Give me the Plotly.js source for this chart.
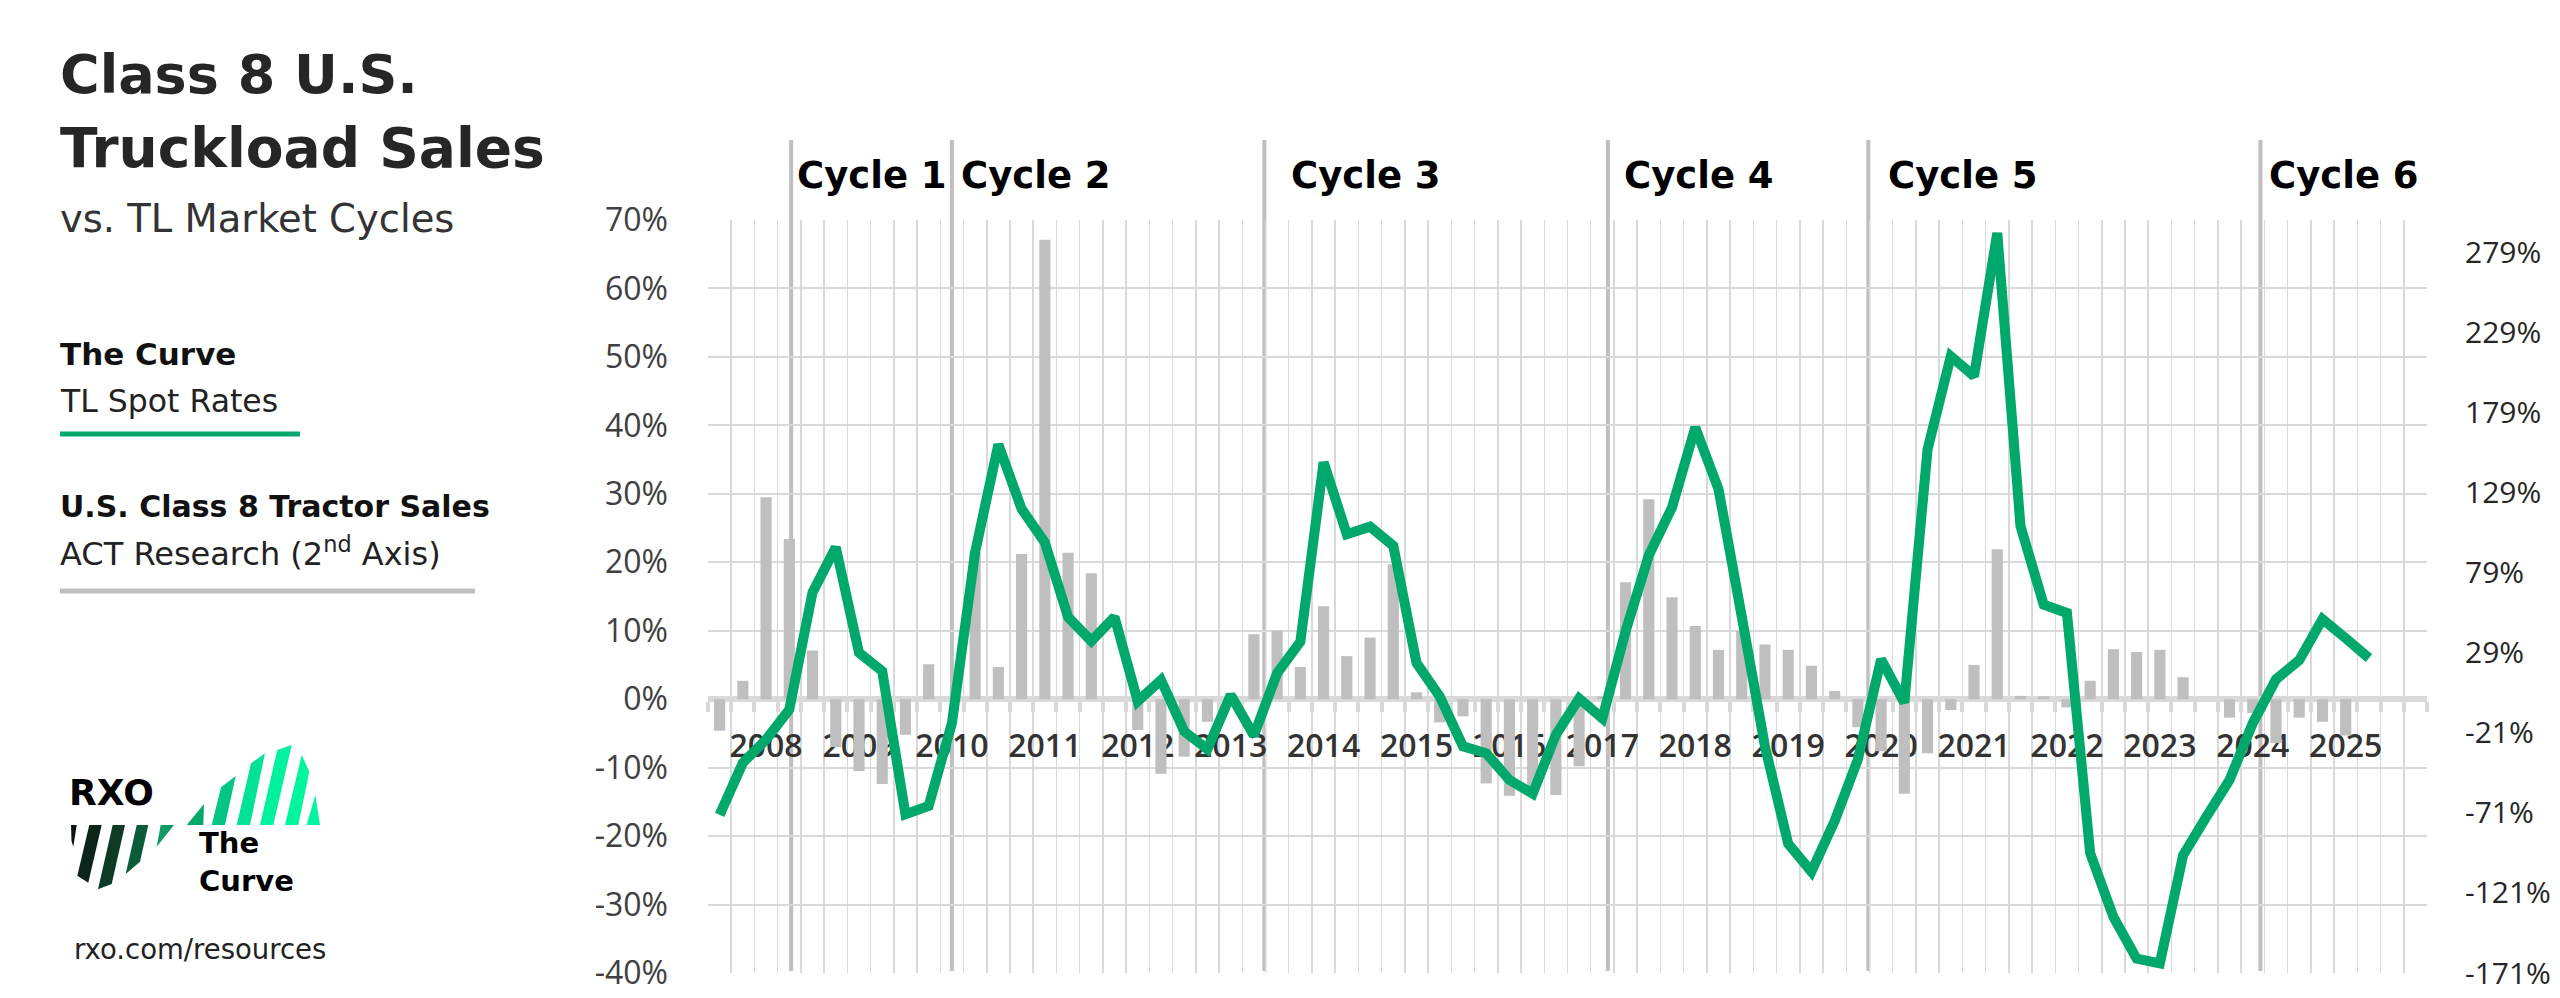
<!DOCTYPE html>
<html>
<head>
<meta charset="utf-8">
<script src="https://cdn.plot.ly/plotly-3.0.1.min.js"></script>
<style>
html,body{margin:0;padding:0;background:#ffffff;}
#chart{width:2560px;height:998px;}
</style>
</head>
<body>
<div id="chart"></div>
<script>
// ---------------- DATA ----------------
const quarters = [
  "2007 Q3","2007 Q4",
  "2008 Q1","2008 Q2","2008 Q3","2008 Q4",
  "2009 Q1","2009 Q2","2009 Q3","2009 Q4",
  "2010 Q1","2010 Q2","2010 Q3","2010 Q4",
  "2011 Q1","2011 Q2","2011 Q3","2011 Q4",
  "2012 Q1","2012 Q2","2012 Q3","2012 Q4",
  "2013 Q1","2013 Q2","2013 Q3","2013 Q4",
  "2014 Q1","2014 Q2","2014 Q3","2014 Q4",
  "2015 Q1","2015 Q2","2015 Q3","2015 Q4",
  "2016 Q1","2016 Q2","2016 Q3","2016 Q4",
  "2017 Q1","2017 Q2","2017 Q3","2017 Q4",
  "2018 Q1","2018 Q2","2018 Q3","2018 Q4",
  "2019 Q1","2019 Q2","2019 Q3","2019 Q4",
  "2020 Q1","2020 Q2","2020 Q3","2020 Q4",
  "2021 Q1","2021 Q2","2021 Q3","2021 Q4",
  "2022 Q1","2022 Q2","2022 Q3","2022 Q4",
  "2023 Q1","2023 Q2","2023 Q3","2023 Q4",
  "2024 Q1","2024 Q2","2024 Q3","2024 Q4",
  "2025 Q1","2025 Q2","2025 Q3","2025 Q4"
];

// The Curve – TL spot rates, YoY % (left axis)
const spotRates = [
  -16.9, -9.3, -5.9, -1.5, 15.6, 22.2, 6.8, 4.1, -16.8, -15.6,
  -3.5, 21.5, 37.2, 27.8, 22.9, 12.0, 8.5, 12.0, -0.3, 2.8,
  -4.7, -7.3, 0.6, -5.3, 3.8, 8.4, 34.6, 24.1, 25.2, 22.4,
  5.3, 0.4, -6.9, -7.9, -11.8, -13.8, -5.2, 0.1, -2.8, 9.9,
  21.0, 28.0, 39.7, 30.7, 12.1, -6.9, -21.1, -25.2, -17.8, -8.8,
  5.8, -0.5, 36.5, 50.1, 47.2, 68.1, 25.3, 13.8, 12.6, -22.5,
  -31.8, -37.9, -38.6, -22.8, -17.2, -11.8, -3.5, 2.9, 5.7, 11.7,
  8.9, 6.0
];

// U.S. Class 8 tractor sales, YoY % (2nd axis)
const tractorSales = [
  -19.7, 11.5, 126.1, 100.0, 30.4, -29.9, -44.9, -53.0, -22.2, 21.8,
  0.0, 91.9, 20.1, 90.6, 286.9, 91.5, 78.7, 0.0, -19.2, -46.6,
  -35.9, -14.1, 0.0, 40.6, 42.8, 20.1, 58.1, 26.9, 38.5, 84.2,
  4.3, -14.5, -10.7, -52.6, -60.3, -57.7, -59.9, -41.9, 1.7, 73.1,
  124.8, 63.7, 45.7, 30.8, 42.8, 34.2, 30.8, 20.9, 5.1, -17.5,
  -32.5, -59.0, -33.8, -6.8, 21.4, 93.6, 2.1, 1.7, -5.1, 11.5,
  31.2, 29.5, 30.8, 13.7, 0.0, -11.5, -8.6, -27.4, -11.5, -14.1,
  -22.7
];

const cycleNames = ["Cycle 1","Cycle 2","Cycle 3","Cycle 4","Cycle 5","Cycle 6"];
// cycle starts, in quarter-index units (0 = 2007 Q3)
const cycleStarts = [3.08, 10.0, 23.45, 38.24, 49.45, 66.33];

const leftTicks  = [-40,-30,-20,-10,0,10,20,30,40,50,60,70];
const rightTicks = [-171,-121,-71,-21,29,79,129,179,229,279];
const yearTickText = quarters.map(q => q.endsWith("Q1") ? q.slice(0,4) : " ");

// ---------------- LAYOUT HELPERS ----------------
const L = 708, R = 2427, T = 220, B = 973;
const W = R - L, H = B - T;
const px = x => (x - L) / W;
const py = y => (B - y) / H;

const HEAD = "DejaVu Sans";
const AX = "Open Sans";

function note(text, x, y, size, color, family, extra) {
  return Object.assign({
    xref: "paper", yref: "paper", x: px(x), y: py(y),
    xanchor: "left", yanchor: "middle", showarrow: false,
    text: text, align: "left",
    font: {family: family || HEAD, size: size, color: color || "#111"}
  }, extra || {});
}

function poly(points, color) {
  const d = points.map((p, i) => (i ? "L" : "M") + px(p[0]).toFixed(5) + "," + py(p[1]).toFixed(5)).join(" ") + " Z";
  return {type: "path", xref: "paper", yref: "paper", path: d,
          fillcolor: color, line: {width: 0}, layer: "above"};
}

const annotations = [
  note("<b>Class 8 U.S.</b>", 58, 75, 54, "#262626"),
  note("<b>Truckload Sales</b>", 58, 148, 55, "#262626"),
  note("vs. TL Market Cycles", 58, 218, 38.5, "#333333"),
  note("<b>The Curve</b>", 58, 354, 31, "#111111"),
  note("TL Spot Rates", 58, 401, 31.5, "#222222"),
  note("<b>U.S. Class 8 Tractor Sales</b>", 58, 506, 30, "#111111"),
  note("ACT Research (2<sup>nd</sup> Axis)", 58, 552, 32, "#222222"),
  note("<b>RXO</b>", 67, 792, 36, "#000000"),
  note("<b>The<br>Curve</b>", 197, 862, 29, "#000000"),
  note("rxo.com/resources", 72, 949, 27.5, "#222222")
];

const cycleLabelLeft = [795, 959, 1289, 1622, 1886, 2267];
cycleNames.forEach((n, i) => {
  annotations.push(note("<b>" + n + "</b>", cycleLabelLeft[i], 175, 37, "#000000"));
});

const shapes = [
  {type: "line", xref: "paper", yref: "paper", x0: px(60), x1: px(300), y0: py(434), y1: py(434),
   line: {color: "#00a86b", width: 5}},
  {type: "line", xref: "paper", yref: "paper", x0: px(60), x1: px(475), y0: py(591), y1: py(591),
   line: {color: "#bfbfbf", width: 5}}
];

cycleStarts.forEach(c => {
  shapes.push({type: "line", xref: "x", yref: "paper", x0: c, x1: c, y0: py(971), y1: py(140),
    line: {color: "#bfbfbf", width: 4}, layer: "below"});
});

// logo stripes (decorative)
const logoDark = [
  [[[71,825],[76.7,825],[73.3,846.7],[71.5,841]], "#08170f"],
  [[[89.3,825],[101.7,825],[88.3,882.7],[77.3,875.7]], "#0b2519"],
  [[[112.7,825],[125,825],[111.7,884],[98,889.3]], "#0c3a25"],
  [[[136.7,825],[148.3,825],[140,861.7],[125.7,874]], "#0b5a38"],
  [[[160.7,825],[174,825],[156.7,846.7]], "#0f9a63"]
];
const logoGreen = [
  [[[186.7,825],[203.3,825],[204,804]], "#07a86c"],
  [[[211.7,825],[225,825],[235.7,776],[221,787.3]], "#03c584"],
  [[[236.7,825],[250,825],[265,753.3],[251,763.3]], "#00e394"],
  [[[260,825],[273.3,825],[291.7,745],[277.3,750]], "#00f39c"],
  [[[285,825],[298.3,825],[309.3,771.7],[301.7,755]], "#00f59d"],
  [[[306.7,825],[320,825],[315.3,795]], "#00f59d"]
];
logoDark.concat(logoGreen).forEach(s => shapes.push(poly(s[0], s[1])));

// ---------------- TRACES ----------------
const bars = {
  type: "bar", name: "U.S. Class 8 Tractor Sales",
  x: quarters.slice(0, tractorSales.length), y: tractorSales,
  yaxis: "y2", marker: {color: "#bfbfbf", line: {width: 0}},
  hoverinfo: "skip"
};
const curve = {
  type: "scatter", mode: "lines", name: "The Curve",
  x: quarters.slice(0, spotRates.length), y: spotRates,
  yaxis: "y", line: {color: "#00a86b", width: 10},
  hoverinfo: "skip"
};

const layout = {
  width: 2560, height: 998,
  margin: {l: L, r: 2560 - R, t: T, b: 998 - B},
  paper_bgcolor: "#ffffff", plot_bgcolor: "rgba(0,0,0,0)",
  showlegend: false,
  bargap: 0.52,
  xaxis: {
    type: "category", categoryorder: "array", categoryarray: quarters,
    range: [-0.5, quarters.length - 0.5],
    tickmode: "array", tickvals: quarters, ticktext: yearTickText,
    tickson: "boundaries", tickangle: 0,
    showgrid: true, gridcolor: "#d9d9d9", gridwidth: 1.5,
    showline: true, linecolor: "#d9d9d9", linewidth: 6,
    ticks: "outside", ticklen: 10, tickwidth: 4, tickcolor: "#d9d9d9",
    anchor: "free", position: 40 / 110,
    tickfont: {family: AX, size: 32, color: "#333333", weight: 600},
    ticklabelstandoff: 16,
    layer: "below traces",
    fixedrange: true
  },
  yaxis: {
    overlaying: "y2", side: "left", anchor: "x",
    range: [-40, 70], tickmode: "array", tickvals: leftTicks,
    ticktext: leftTicks.map(v => v + "%"),
    showgrid: true, gridcolor: "#d9d9d9", gridwidth: 2,
    zeroline: false, showline: false, ticks: "",
    tickfont: {family: AX, size: 32, color: "#404040"},
    ticklabelstandoff: 39, fixedrange: true
  },
  yaxis2: {
    side: "right", anchor: "x",
    range: [-171, 299.25], tickmode: "array", tickvals: rightTicks,
    ticktext: rightTicks.map(v => v + "%"),
    showgrid: false, zeroline: false, showline: false, ticks: "",
    tickfont: {family: AX, size: 30, color: "#262626"},
    ticklabelstandoff: 37, fixedrange: true
  },
  annotations: annotations,
  shapes: shapes
};

Plotly.newPlot("chart", [bars, curve], layout, {staticPlot: true, displayModeBar: false});
</script>
</body>
</html>
